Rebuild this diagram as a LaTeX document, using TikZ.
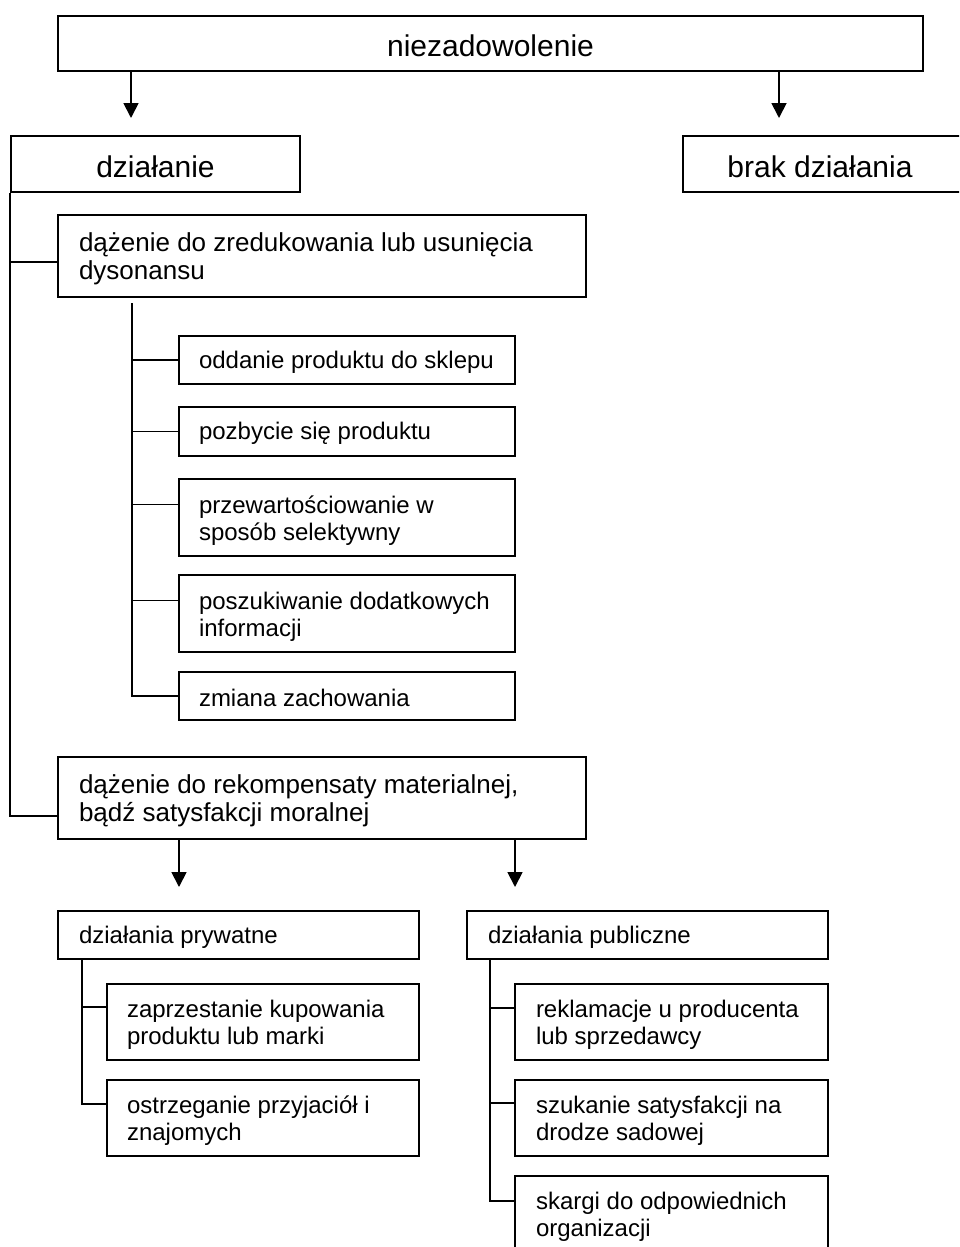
\documentclass[tikz,border=0pt]{standalone}
\usepackage{fontspec}
\setmainfont{Liberation Sans}
\usetikzlibrary{arrows.meta}

\begin{document}
\begin{tikzpicture}[x=1pt,y=-1pt,
  line width=1.8pt,
  frame/.style={draw, line width=1.8pt, inner sep=0pt},
  toptext/.style={inner sep=0pt, font=\fontsize{30}{34}\selectfont},
  bigtext/.style={inner sep=0pt, anchor=west, align=left,
    font=\fontsize{26}{28}\selectfont},
  smalltext/.style={inner sep=0pt, anchor=west, align=left,
    font=\fontsize{24}{27}\selectfont},
  arr/.style={-{Triangle[width=15pt,length=15pt]}},
  link/.style={line width=1.8pt}]

\useasboundingbox (0,0) rectangle (959,1247);
\clip (0,0) rectangle (959,1247);

% ---------- top level ----------
\node[frame, minimum width=865pt, minimum height=55pt] (niez) at (490.5,43.5) {};
\node[toptext] (niez-t) at ([yshift=-2pt]niez.center) {niezadowolenie};
\node[frame, minimum width=289pt, minimum height=56pt] (dzial) at (155.5,164) {};
\node[toptext] (dzial-t) at ([yshift=-3pt]dzial.center) {działanie};
\node[frame, minimum width=280pt, minimum height=56pt] (brak) at (823,164) {};
\node[toptext] (brak-t) at ([xshift=-3pt,yshift=-3pt]brak.center) {brak działania};

\coordinate (t1) at (131,118);
\coordinate (t2) at (779,118);
\draw[arr] (t1 |- niez.south) -- (t1);
\draw[arr] (t2 |- niez.south) -- (t2);

% ---------- reducing dissonance ----------
\node[frame, minimum width=528pt, minimum height=82pt] (red) at (322,256) {};
\node[bigtext] (red-t) at ([xshift=21pt,yshift=-3pt]red.west)
  {dążenie do zredukowania lub usunięcia\\dysonansu};

\node[frame, minimum width=336pt, minimum height=48pt] (odd) at (347,360) {};
\node[smalltext] (odd-t) at ([xshift=20pt,yshift=-2pt]odd.west) {oddanie produktu do sklepu};
\node[frame, minimum width=336pt, minimum height=49pt] (poz) at (347,431.5) {};
\node[smalltext] (poz-t) at ([xshift=20pt,yshift=-2pt]poz.west) {pozbycie się produktu};
\node[frame, minimum width=336pt, minimum height=77pt] (prz) at (347,517.5) {};
\node[smalltext] (prz-t) at ([xshift=20pt,yshift=-3pt]prz.west) {przewartościowanie w\\sposób selektywny};
\node[frame, minimum width=336pt, minimum height=77pt] (posz) at (347,613.5) {};
\node[smalltext] (posz-t) at ([xshift=20pt,yshift=-3pt]posz.west) {poszukiwanie dodatkowych\\informacji};
\node[frame, minimum width=336pt, minimum height=48pt] (zm) at (347,696) {};
\node[smalltext] (zm-t) at ([xshift=20pt,yshift=-2pt]zm.west) {zmiana zachowania};

% ---------- compensation ----------
\node[frame, minimum width=528pt, minimum height=82pt] (rek) at (322,798) {};
\node[bigtext] (rek-t) at ([xshift=21pt,yshift=-3pt]rek.west)
  {dążenie do rekompensaty materialnej,\\bądź satysfakcji moralnej};

% main trunk under "działanie"
\coordinate (mRed) at ([yshift=-6pt]red.west);
\coordinate (mRek) at ([yshift=-18pt]rek.west);
\draw[link] (dzial.south west) |- (mRek);
\draw[link] (mRed) -- (mRed -| dzial.west);

% sub trunk under "dążenie do zredukowania"
\coordinate (s0) at (132,303);
\coordinate (bPrz) at ([yshift=13pt]prz.west);
\coordinate (bPosz) at ([yshift=13pt]posz.west);
\draw[link] (s0) |- (zm.west);
\draw[link] (s0 |- odd.west) -- (odd.west);
\draw[link] (s0 |- poz.west) -- (poz.west);
\draw[link] (s0 |- bPrz) -- (bPrz);
\draw[link] (s0 |- bPosz) -- (bPosz);

% arrows to private / public actions
\coordinate (t3) at (179,887);
\coordinate (t4) at (515,887);
\draw[arr] (t3 |- rek.south) -- (t3);
\draw[arr] (t4 |- rek.south) -- (t4);

\node[frame, minimum width=361pt, minimum height=48pt] (pryw) at (238.5,935) {};
\node[smalltext] (pryw-t) at ([xshift=21pt,yshift=-2pt]pryw.west) {działania prywatne};
\node[frame, minimum width=361pt, minimum height=48pt] (publ) at (647.5,935) {};
\node[smalltext] (publ-t) at ([xshift=21pt,yshift=-2pt]publ.west) {działania publiczne};

\node[frame, minimum width=312pt, minimum height=76pt] (zap) at (263,1022) {};
\node[smalltext] (zap-t) at ([xshift=20pt,yshift=-3pt]zap.west) {zaprzestanie kupowania\\produktu lub marki};
\node[frame, minimum width=312pt, minimum height=76pt] (ost) at (263,1118) {};
\node[smalltext] (ost-t) at ([xshift=20pt,yshift=-3pt]ost.west) {ostrzeganie przyjaciół i\\znajomych};

\node[frame, minimum width=313pt, minimum height=76pt] (rekl) at (671.5,1022) {};
\node[smalltext] (rekl-t) at ([xshift=21pt,yshift=-3pt]rekl.west) {reklamacje u producenta\\lub sprzedawcy};
\node[frame, minimum width=313pt, minimum height=76pt] (szuk) at (671.5,1118) {};
\node[smalltext] (szuk-t) at ([xshift=21pt,yshift=-3pt]szuk.west) {szukanie satysfakcji na\\drodze sadowej};
\node[frame, minimum width=313pt, minimum height=76pt] (skar) at (671.5,1214) {};
\node[smalltext] (skar-t) at ([xshift=21pt,yshift=-3pt]skar.west) {skargi do odpowiednich\\organizacji};

% private trunk
\coordinate (p0) at ([xshift=25pt]pryw.south west);
\coordinate (bZap) at ([yshift=15pt]zap.west);
\coordinate (bOst) at ([yshift=14pt]ost.west);
\draw[link] (p0) |- (bOst);
\draw[link] (p0 |- bZap) -- (bZap);

% public trunk
\coordinate (q0) at ([xshift=24pt]publ.south west);
\coordinate (bRekl) at ([yshift=14pt]rekl.west);
\coordinate (bSzuk) at ([yshift=15pt]szuk.west);
\coordinate (bSkar) at ([yshift=13pt]skar.west);
\draw[link] (q0) |- (bSkar);
\draw[link] (q0 |- bRekl) -- (bRekl);
\draw[link] (q0 |- bSzuk) -- (bSzuk);

\end{tikzpicture}
\end{document}
